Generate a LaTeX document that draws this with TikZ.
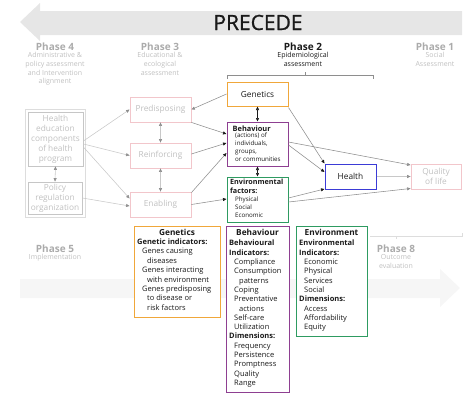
\documentclass[tikz,border=0pt]{standalone}
\usepackage{fontspec}
\setmainfont{Open Sans}
\newfontfamily\pcfont[FakeBold=0.9]{Open Sans}
\usetikzlibrary{arrows.meta,calc}
\newcommand{\myfs}[2]{\fontsize{#1}{#2}\selectfont}
\definecolor{cOr}{HTML}{F0A73A}
\definecolor{cPu}{HTML}{8E3F91}
\definecolor{cGr}{HTML}{2E9B61}
\definecolor{cBl}{HTML}{3B3BD6}
\definecolor{cPk}{HTML}{F2C6CB}
\definecolor{cFd}{HTML}{C6C6C6}
\definecolor{cFt}{HTML}{C0C0C0}
\definecolor{cPh}{HTML}{ABABAB}
\definecolor{cLn}{HTML}{8E8E8E}
\definecolor{cLnF}{HTML}{C8C8C8}
\definecolor{cBand}{HTML}{E6E6E6}
\definecolor{cBandF}{HTML}{F6F6F6}
\definecolor{cTx}{HTML}{1A1A1A}
\tikzset{
  phase/.style={font=\bfseries\myfs{10}{12}, text=cPh, inner sep=0},
  phsub/.style={font=\myfs{7}{8.8}, text=cFt, align=center, inner sep=0, anchor=north},
  colbox/.style={draw=#1, line width=1pt, fill=white, inner sep=0},
  fadebox/.style={draw=cPk, line width=0.8pt, fill=white, inner sep=0, text=cFt, font=\myfs{8.3}{10}, minimum width=61pt, minimum height=25pt},
  greybox/.style={draw=cFd, line width=0.8pt, inner sep=0, text=cFt, font=\myfs{8.3}{10}, align=center},
  arr/.style={draw=cLn, line width=0.55pt, -{Triangle[length=3.5pt,width=3pt,color=cLn]}},
  arrd/.style={draw=cLn, line width=0.55pt, -{Triangle[length=3.5pt,width=3pt,color=cTx]}},
  arrf/.style={draw=cLnF, line width=0.55pt, -{Triangle[length=3.5pt,width=3pt,color=cLn]}},
  dblf/.style={draw=cLnF, line width=0.55pt, {Triangle[length=3.5pt,width=3pt,color=cLn]}-{Triangle[length=3.5pt,width=3pt,color=cLn]}},
  dbld/.style={draw=cTx, line width=0.55pt, {Triangle[length=3.5pt,width=3pt,color=cTx]}-{Triangle[length=3.5pt,width=3pt,color=cTx]}},
  body/.style={anchor=north west, align=left, inner sep=0, text=cTx},
}
\begin{document}
\begin{tikzpicture}[x=1pt,y=-1pt]
\useasboundingbox (0,0) rectangle (474,415);
% PRECEDE arrow
\fill[cBand] (462,11) -- (40,11) -- (40,3) -- (20,22) -- (40,41) -- (40,35) -- (462,35) -- cycle;
\node[font=\pcfont\myfs{21}{24}, text=cTx, inner sep=0] (precede) at (258,22.5) {PRECEDE};
% PROCEED faint arrow
\fill[cBandF] (20,279) -- (440,279) -- (440,269) -- (460,288) -- (440,307) -- (440,298) -- (20,298) -- cycle;

% phase labels
\node[phase] (p4) at (55,47) {Phase 4};
\node[phsub] (p4s) at (55,52) {Administrative \&\\policy assessment\\and Intervention\\alignment};
\node[phase] (p3) at (160,47) {Phase 3};
\node[phsub] (p3s) at (160,52) {Educational \&\\ecological\\assessment};
\node[phase, text=cTx] (p2) at (303,47) {Phase 2};
\node[phsub, text=cTx] (p2s) at (303,52) {Epidemiological\\assessment};
\node[phase] (p1) at (435,47) {Phase 1};
\node[phsub] (p1s) at (435,52) {Social\\Assessment};
\node[phase] (p5) at (55,249) {Phase 5};
\node[phsub] (p5s) at (55,254) {Implementation};
\node[phase] (p8) at (396,249) {Phase 8};
\node[phsub] (p8s) at (396,254) {Outcome\\evaluation};

% brackets
\draw[cLn, line width=0.6pt] (227,79) -- (227,75) -- (373,75) -- (373,79);
\draw[cLn, line width=0.6pt] (305,75) -- (305,72);
\draw[cFd!60, line width=0.6pt] (370,236) -- (462,236) -- (462,233);
\draw[cFd!60, line width=0.6pt] (396,236) -- (396,239);

% Phase 4 boxes
\node[draw=cFd!60, line width=0.6pt, minimum width=60pt, minimum height=108pt, inner sep=0] (frame) at (55,163) {};
\node[greybox, minimum width=55pt, minimum height=54pt] (he) at (55.5,139) {Health\\education\\components\\of health\\program};
\node[greybox, minimum width=54pt, minimum height=32pt] (pol) at (55,198) {Policy\\regulation\\organization};

% Phase 3 boxes
\node[fadebox] (pre) at (160.5,109.5) {Predisposing};
\node[fadebox] (rei) at (160.5,155.5) {Reinforcing};
\node[fadebox] (ena) at (160.5,204.5) {Enabling};

% Phase 2 boxes
\node[colbox=cOr, minimum width=61pt, minimum height=24pt, font=\myfs{8.3}{10}, text=cTx] (gen) at (257.5,94) {Genetics};
\node[colbox=cPu, minimum width=61pt, minimum height=44pt] (beh) at (257.5,144) {};
\node[colbox=cGr, minimum width=61pt, minimum height=45pt] (env) at (257.5,199.5) {};
\node[anchor=west, inner sep=0, text=cTx, font=\bfseries\myfs{7.4}{9}] (beht) at (232.5,129) {Behaviour};
\node[body, font=\myfs{6.2}{7.7}] (behb) at (235,133) {(actions) of\\individuals,\\groups,\\or communities};
\node[body, font=\bfseries\myfs{7.2}{9}] (envt) at (230,179) {Environmental\\factors:};
\node[body, font=\myfs{6.2}{8}] (envb) at (235,197) {Physical\\Social\\Economic};

% Phase 1 / outcome boxes
\node[colbox=cBl, minimum width=51pt, minimum height=25pt, font=\myfs{8.3}{10}, text=cTx] (health) at (350.5,176.5) {Health};
\node[draw=cPk, line width=0.8pt, minimum width=50pt, minimum height=25pt, inner sep=0, align=center, text=cFt, font=\myfs{8.3}{10}] (qol) at (436,176.5) {Quality\\of life};

% connectors
\draw[arrf] ($(he.east)+(0,2)$) -- (pre.west);
\draw[arrf] ($(he.east)+(0,5)$) -- (rei.west);
\draw[arrf] ($(he.east)+(0,8)$) -- ($(ena.west)+(0,-6)$);
\draw[arrf] (pol.east) -- ($(ena.west)+(0,1.5)$);
\draw[dblf] (he.south) -- (pol.north);
\draw[dblf] (pre.south) -- (rei.north);
\draw[dblf] (rei.south) -- (ena.north);
\draw[arr] (gen.west) -- (pre.east);
\draw[arrd] (pre.south east) -- ($(beh.west)+(0,-10)$);
\draw[arrd] ($(rei.east)+(0,-1.5)$) -- ($(beh.west)+(0,-1)$);
\draw[arrd] ($(ena.north east)+(0,1)$) -- ($(beh.west)+(0,9)$);
\draw[arrd] (ena.east) -- ($(env.west)+(0,-0.5)$);
\draw[dbld] (gen.south) -- (beh.north);
\draw[dbld] (beh.south) -- (env.north);
\draw[arrd] ($(gen.south east)+(0,1)$) -- (health.north west);
\draw[arrd] ($(beh.east)+(0,1)$) -- ($(health.west)+(0,-4.5)$);
\draw[arr] ($(beh.east)+(0,-2)$) -- ($(qol.west)+(0,-11.5)$);
\draw[arrd] ($(env.east)+(0,-1.5)$) -- ($(health.south west)+(0,-0.5)$);
\draw[arr] ($(env.east)+(0,2.5)$) -- ($(qol.west)+(0,12)$);
\draw[arr, draw=cLnF] (health.east) -- (qol.west);

% detail boxes
\node[colbox=cOr, anchor=north west, minimum width=86pt, minimum height=91pt] (gd) at (134,226) {};
\node[inner sep=0, text=cTx, font=\bfseries\myfs{8.3}{10}] (gdh) at (177,232) {Genetics};
\node[body, font=\myfs{7.5}{9.4}] (gdt) at (137,238.5) {\textbf{Genetic indicators:}\\
\hspace*{5pt}Genes causing\\
\hspace*{10pt}diseases\\
\hspace*{5pt}Genes interacting\\
\hspace*{10pt}with environment\\
\hspace*{5pt}Genes predisposing\\
\hspace*{10pt}to disease or\\
\hspace*{10pt}risk factors};

\node[colbox=cPu, anchor=north west, minimum width=63pt, minimum height=166pt] (bd) at (226,226) {};
\node[inner sep=0, text=cTx, font=\bfseries\myfs{8.3}{10}] (bdh) at (257.5,232) {Behaviour};
\node[body, font=\myfs{7.5}{9.3}] (bdt) at (229,240) {\textbf{Behavioural}\\
\textbf{Indicators:}\\
\hspace*{5pt}Compliance\\
\hspace*{5pt}Consumption\\
\hspace*{10pt}patterns\\
\hspace*{5pt}Coping\\
\hspace*{5pt}Preventative\\
\hspace*{10pt}actions\\
\hspace*{5pt}Self-care\\
\hspace*{5pt}Utilization\\
\textbf{Dimensions:}\\
\hspace*{5pt}Frequency\\
\hspace*{5pt}Persistence\\
\hspace*{5pt}Promptness\\
\hspace*{5pt}Quality\\
\hspace*{5pt}Range};

\node[colbox=cGr, anchor=north west, minimum width=71pt, minimum height=110pt] (ed) at (296,226) {};
\node[inner sep=0, text=cTx, font=\bfseries\myfs{8.3}{10}] (edh) at (331.5,232) {Environment};
\node[body, font=\myfs{7.5}{9.3}] (edt) at (299,240) {\textbf{Environmental}\\
\textbf{Indicators:}\\
\hspace*{5pt}Economic\\
\hspace*{5pt}Physical\\
\hspace*{5pt}Services\\
\hspace*{5pt}Social\\
\textbf{Dimensions:}\\
\hspace*{5pt}Access\\
\hspace*{5pt}Affordability\\
\hspace*{5pt}Equity};
\end{tikzpicture}
\end{document}
